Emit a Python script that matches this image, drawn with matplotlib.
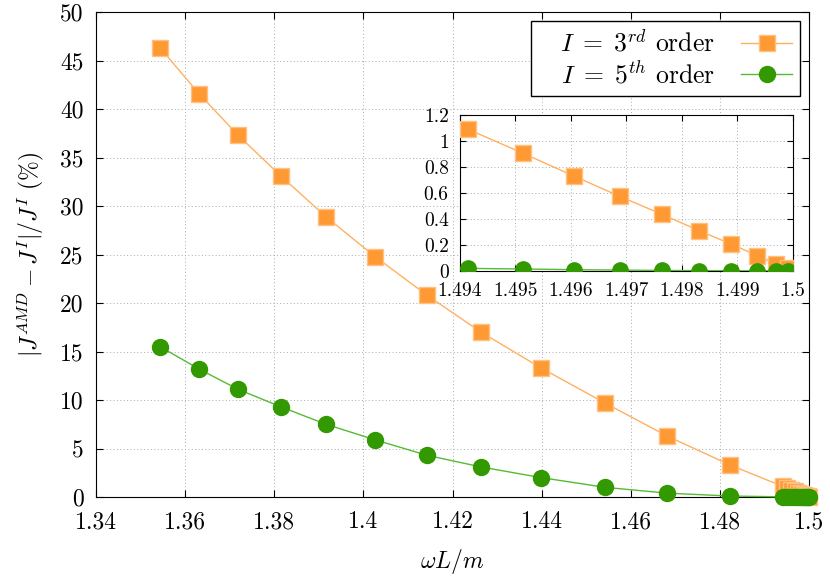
import numpy as np
import matplotlib
matplotlib.use('Agg')
import matplotlib.pyplot as plt
from matplotlib.ticker import FuncFormatter, MultipleLocator

# dados: wL/m e erro relativo (%)
omega = [1.3544, 1.3631, 1.3719, 1.3815, 1.3916, 1.4026, 1.4143, 1.4264,
         1.4399, 1.4542, 1.4681, 1.4823,
         1.49415, 1.49514, 1.49605, 1.49688, 1.49764, 1.49831, 1.49888,
         1.49936, 1.4997, 1.49991]
erro3 = [46.3, 41.6, 37.3, 33.1, 28.9, 24.8, 20.8, 17.0, 13.3, 9.7, 6.3, 3.3,
         1.090, 0.905, 0.731, 0.574, 0.436, 0.310, 0.208, 0.118, 0.054, 0.021]
erro5 = [15.5, 13.2, 11.1, 9.3, 7.5, 5.9, 4.3, 3.1, 2.0, 1.0, 0.4, 0.1,
         0.020, 0.015, 0.010, 0.007, 0.004, 0.003, 0.002, 0.001, 0.0005, 0.0002]

rotulos = [r'$\quad I\;=\;3^{rd}$ order', r'$\quad I\;=\;5^{th}$ order']

plt.rcParams['font.family'] = 'serif'
plt.rcParams['font.serif'] = ['cmr10']
plt.rcParams['mathtext.fontset'] = 'cm'
plt.rcParams['axes.formatter.use_mathtext'] = True

laranja = '#ff9933'
laranja_linha = '#ffb060'
verde = '#339900'
verde_linha = '#55bb33'
grade = dict(linestyle=(0, (1, 2.5)), color='#aaaaaa', lw=0.7)

fmt = FuncFormatter(lambda v, p: '%g' % round(v, 6))

fig = plt.figure(figsize=(8.3, 5.79), dpi=100)
ax = fig.add_axes([0.1157, 0.1416, 0.859, 0.8374])

ax.plot(omega, erro3, color=laranja_linha, lw=1, marker='s', ms=11.5,
        mfc=laranja, mec='#ffc080', mew=1, label=rotulos[0], clip_on=False, zorder=3)
ax.plot(omega, erro5, color=verde_linha, lw=1, marker='o', ms=11.5,
        mfc=verde, mec=verde, label=rotulos[1], clip_on=False, zorder=4)

ax.set_xlim(1.34, 1.5)
ax.set_ylim(0, 50)
ax.xaxis.set_major_locator(MultipleLocator(0.02))
ax.yaxis.set_major_locator(MultipleLocator(5))
ax.xaxis.set_major_formatter(fmt)
ax.yaxis.set_major_formatter(fmt)
ax.tick_params(direction='in', top=True, right=True, labelsize=17, length=5)
ax.tick_params(axis='x', pad=10)
ax.tick_params(axis='y', pad=9)
ax.grid(True, **grade)
ax.set_xlabel(r'$\omega L/m$', fontsize=17, labelpad=10)
ax.set_ylabel(r'$|J^{AMD}-J^{I}|/J^{I}\ (\%)$', fontsize=17, labelpad=10)

leg = ax.legend(loc='upper right', markerfirst=False, fontsize=18.5, fancybox=False,
                framealpha=1, edgecolor='black', borderaxespad=0.35, handlelength=2.0,
                handletextpad=1.0, borderpad=0.3, labelspacing=0.18)
leg.get_frame().set_linewidth(1)

# inset com o detalhe perto de 1.5
axi = fig.add_axes([0.554, 0.532, 0.4014, 0.2694])
axi.plot(omega, erro3, color=laranja_linha, lw=1, marker='s', ms=11,
         mfc=laranja, mec='#ffc080', mew=1, zorder=3)
axi.plot(omega, erro5, color=verde_linha, lw=1, marker='o', ms=11,
         mfc=verde, mec=verde, zorder=4)
axi.set_xlim(1.494, 1.5)
axi.set_ylim(0, 1.2)
axi.xaxis.set_major_locator(MultipleLocator(0.001))
axi.yaxis.set_major_locator(MultipleLocator(0.2))
axi.xaxis.set_major_formatter(fmt)
axi.yaxis.set_major_formatter(fmt)
axi.tick_params(direction='in', top=True, right=True, labelsize=14, length=4, pad=8)
axi.grid(True, **grade)

plt.savefig('out.png', dpi=100)
